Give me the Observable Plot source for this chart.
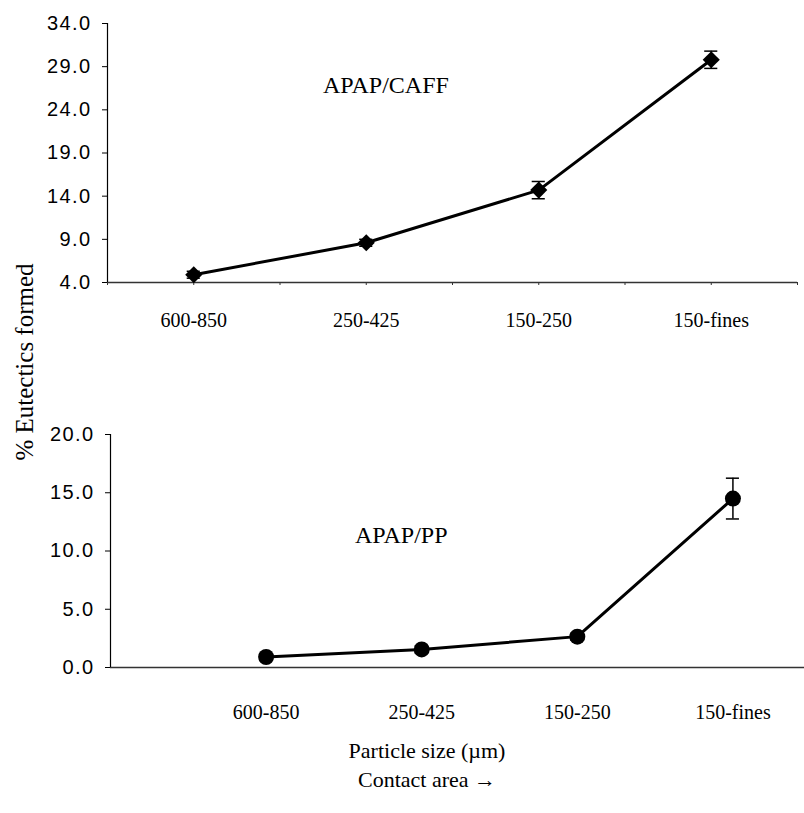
<!DOCTYPE html>
<html><head><meta charset="utf-8">
<script src="https://cdn.jsdelivr.net/npm/d3@7"></script>
<script src="https://cdn.jsdelivr.net/npm/@observablehq/plot@0.6"></script>
<style>
body{margin:0;background:#fff;}
#wrap{position:relative;width:804px;height:813px;background:#fff;font-family:"Liberation Serif","Times New Roman",serif;color:#000;overflow:hidden;}
.abs{position:absolute;white-space:nowrap;}
</style></head><body><div id="wrap"></div>
<script>
const categories = ["600-850", "250-425", "150-250", "150-fines"];
const caffValues = [4.9, 8.6, 14.7, 29.8];
const caffErrors = [0.4, 0.4, 1.0, 1.0];
const ppValues = [0.9, 1.55, 2.65, 14.5];
const ppErrors = [0.3, 0.3, 0.3, 1.75];
const caffTicks = [4, 9, 14, 19, 24, 29, 34];
const ppTicks = [0, 5, 10, 15, 20];
const yTitle = "% Eutectics formed";
const xTitle = "Particle size (\u00b5m)";
const xSubtitle = "Contact area \u2192";
const caffLabel = "APAP/CAFF";
const ppLabel = "APAP/PP";

const wrap = document.getElementById("wrap");
const fmt = d3.format(".1f");
const serif = "Liberation Serif, Times New Roman, serif";
const sans = "Liberation Sans, Arial, sans-serif";

// Top panel: categories at half positions on a 0..4 axis
const caffData = categories.map((c, i) => ({c, x: i + 0.5, v: caffValues[i], e: caffErrors[i]}));
const capTop = 0.038;
const topPlot = Plot.plot({
  width: 804, height: 340,
  marginTop: 23, marginBottom: 58, marginLeft: 107, marginRight: 7,
  x: {domain: [0, 4], axis: null},
  y: {domain: [4, 34], axis: null},
  style: {background: "transparent", overflow: "visible"},
  marks: [
    Plot.axisY({ticks: caffTicks, tickFormat: fmt, tickSize: 5, tickPadding: 11, label: null, fontSize: 20, fontFamily: sans}),
    Plot.axisX({ticks: d3.range(0, 4.01, 0.5), tickSize: 3, tickPadding: 27, label: null, stroke: "#333",
      tickFormat: d => (d % 1 === 0.5 ? categories[Math.floor(d)] : ""), fontSize: 20, fontFamily: serif}),
    Plot.ruleY([4], {stroke: "#333", strokeWidth: 1.5}),
    Plot.ruleX([0], {stroke: "#000", strokeWidth: 1.2}),
    Plot.ruleX(caffData, {x: "x", y1: d => d.v - d.e, y2: d => d.v + d.e, stroke: "#000", strokeWidth: 1.5}),
    Plot.ruleY(caffData, {y: d => d.v + d.e, x1: d => d.x - capTop, x2: d => d.x + capTop, stroke: "#000", strokeWidth: 1.5}),
    Plot.ruleY(caffData, {y: d => d.v - d.e, x1: d => d.x - capTop, x2: d => d.x + capTop, stroke: "#000", strokeWidth: 1.5}),
    Plot.line(caffData, {x: "x", y: "v", stroke: "#000", strokeWidth: 3}),
    Plot.dot(caffData, {x: "x", y: "v", symbol: "diamond2", r: 7.7, fill: "#000", stroke: "none"})
  ]
});
topPlot.style.position = "absolute"; topPlot.style.left = "0px"; topPlot.style.top = "0px";
wrap.appendChild(topPlot);

// Bottom panel: categories at integer positions
const ppData = categories.map((c, i) => ({c, x: i + 1, v: ppValues[i], e: ppErrors[i]}));
const capBot = 0.042;
const bottomPlot = Plot.plot({
  width: 804, height: 330,
  marginTop: 34, marginBottom: 63, marginLeft: 110, marginRight: 0,
  x: {domain: [0, 4.46], axis: null},
  y: {domain: [0, 20], axis: null},
  style: {background: "transparent", overflow: "visible"},
  marks: [
    Plot.axisY({ticks: ppTicks, tickFormat: fmt, tickSize: 5, tickPadding: 11, label: null, fontSize: 20, fontFamily: sans}),
    Plot.axisX({ticks: [1, 2, 3, 4], tickSize: 0, tickPadding: 37, label: null,
      tickFormat: d => categories[d - 1], fontSize: 20, fontFamily: serif}),
    Plot.ruleY([0], {stroke: "#333", strokeWidth: 1.5}),
    Plot.ruleX([0], {stroke: "#000", strokeWidth: 1.2}),
    Plot.ruleX(ppData, {x: "x", y1: d => d.v - d.e, y2: d => d.v + d.e, stroke: "#000", strokeWidth: 1.5}),
    Plot.ruleY(ppData, {y: d => d.v + d.e, x1: d => d.x - capBot, x2: d => d.x + capBot, stroke: "#000", strokeWidth: 1.5}),
    Plot.ruleY(ppData, {y: d => d.v - d.e, x1: d => d.x - capBot, x2: d => d.x + capBot, stroke: "#000", strokeWidth: 1.5}),
    Plot.line(ppData, {x: "x", y: "v", stroke: "#000", strokeWidth: 3}),
    Plot.dot(ppData, {x: "x", y: "v", r: 8, fill: "#000", stroke: "none"})
  ]
});
bottomPlot.style.position = "absolute"; bottomPlot.style.left = "0px"; bottomPlot.style.top = "400px";
wrap.appendChild(bottomPlot);

// widen the sans-serif y tick labels slightly, like the reference
d3.selectAll("g[aria-label='y-axis tick label'] text").style("letter-spacing", "1.4px");

function addText(txt, css) {
  const d = document.createElement("div");
  d.className = "abs";
  d.textContent = txt;
  Object.assign(d.style, css);
  wrap.appendChild(d);
  return d;
}
addText(caffLabel, {left: "323px", top: "73px", fontSize: "24px", lineHeight: "24px"});
addText(ppLabel, {left: "355px", top: "523px", fontSize: "24px", lineHeight: "24px"});
addText(xTitle, {left: "227px", width: "400px", textAlign: "center", top: "740px", fontSize: "22px", lineHeight: "22px"});
addText(xSubtitle, {left: "227px", width: "400px", textAlign: "center", top: "769px", fontSize: "22px", lineHeight: "22px"});
addText(yTitle, {left: "-125px", top: "349px", width: "300px", height: "26px", textAlign: "center", fontSize: "25px", lineHeight: "26px", transform: "rotate(-90deg)", transformOrigin: "50% 50%"});
</script></body></html>
